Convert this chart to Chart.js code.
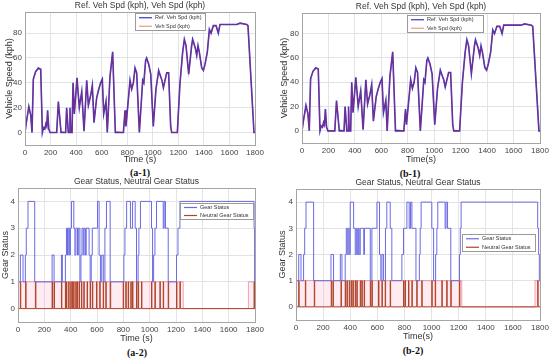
<!DOCTYPE html>
<html>
<head>
<meta charset="utf-8">
<script src="https://cdn.jsdelivr.net/npm/chart.js@4.4.1/dist/chart.umd.min.js"></script>
<style>
  body { margin: 0; background: #fff; width: 550px; height: 362px; position: relative; overflow: hidden; }
  canvas { position: absolute; }
  .cap { position: absolute; font: bold 10px "Liberation Serif", "Times New Roman", serif; color: #111; transform: translate(-50%, -50%); white-space: nowrap; }
</style>
</head>
<body>
<div class="cap" style="left:140px;top:172px">(a-1)</div>
<div class="cap" style="left:410px;top:173px">(b-1)</div>
<div class="cap" style="left:137px;top:352px">(a-2)</div>
<div class="cap" style="left:413px;top:350px">(b-2)</div>
<script>
// speed cycle (s, kph)
const speedTimes = [0, 10, 30, 45, 55, 65, 83, 104, 123, 136, 145, 155, 163, 170, 177, 186, 196, 248, 261, 282,
  318, 326, 339, 348, 352, 357, 368, 376, 386, 407, 425, 444, 462, 483, 496, 514, 527, 540, 561, 575,
  592, 605, 616, 634, 644, 665, 686, 707, 770, 783, 790, 822, 835, 848, 861, 874, 895, 921, 930, 944,
  952, 968, 984, 1004, 1025, 1046, 1062, 1072, 1083, 1109, 1124, 1140, 1148, 1192, 1213, 1234, 1247, 1260, 1281, 1304,
  1312, 1333, 1344, 1354, 1364, 1383, 1396, 1409, 1427, 1443, 1456, 1474, 1495, 1513, 1526, 1657, 1683, 1735, 1745, 1792, 1800];
const refSpeed = [0, 8, 21, 14, 0, 43, 49, 52, 51, 0, 4, 3, 7, 5, 18, 3, 0, 0, 25, 0,
  0, 20, 0, 0, 20, 0, 0, 40, 15, 44, 20, 33, 1, 42, 22, 30, 38, 8, 28, 34,
  40, 43, 15, 25, 0, 45, 65, 0, 0, 18, 5, 42, 35, 40, 52, 48, 0, 42, 40, 58,
  60, 55, 47, 5, 35, 50, 45, 42, 36, 48, 48, 5, 0, 0, 40, 65, 75, 70, 47, 70,
  75, 68, 62, 70, 65, 52, 50, 55, 65, 83, 80, 86, 86, 80, 87, 87, 88, 87, 86, 0, 0];
const vehSpeed = [0, 7, 20, 14, 1, 42, 49, 51, 51, 1, 4, 3, 6, 5, 17, 3, 0, 0, 24, 1,
  0, 19, 1, 0, 19, 1, 0, 39, 16, 43, 21, 32, 2, 41, 22, 30, 37, 9, 28, 34,
  40, 42, 16, 25, 1, 44, 64, 1, 0, 17, 6, 41, 35, 40, 51, 48, 1, 41, 40, 57,
  59, 55, 47, 6, 35, 49, 45, 42, 37, 48, 48, 6, 0, 0, 39, 64, 74, 70, 48, 69,
  74, 68, 62, 69, 65, 52, 50, 55, 65, 82, 80, 86, 86, 81, 87, 87, 88, 87, 86, 1, 0];

// gear status change points (s -> gear from that time on)
const gearTimesA = [0, 18, 38, 56, 63, 76, 127, 259, 274, 330, 337, 360, 368, 376, 382, 392, 398, 406, 424, 432,
  440, 452, 458, 470, 478, 486, 496, 502, 512, 518, 540, 548, 556, 564, 604, 616, 626, 636, 648, 660,
  672, 700, 804, 812, 825, 854, 870, 890, 900, 912, 918, 930, 1014, 1022, 1030, 1040, 1052, 1103, 1110, 1120,
  1141, 1204, 1215, 1230, 1793, 1797, 1800];
const gearA = [1, 2, 1, 2, 3, 4, 1, 2, 1, 2, 1, 2, 3, 2, 3, 2, 3, 4, 3, 2,
  3, 2, 3, 1, 2, 3, 2, 3, 2, 3, 2, 1, 2, 3, 4, 2, 1, 2, 1, 3,
  4, 1, 2, 3, 4, 3, 4, 3, 1, 2, 3, 4, 3, 1, 2, 3, 4, 3, 4, 3,
  1, 2, 3, 4, 3, 1, 1];
const gearTimesB = [0, 20, 37, 56, 64, 74, 130, 258, 277, 327, 339, 363, 371, 378, 385, 393, 400, 425, 437, 445,
  452, 460, 466, 474, 500, 505, 548, 560, 597, 616, 626, 634, 646, 660, 670, 695, 707, 781, 793, 818,
  835, 845, 855, 885, 910, 916, 923, 1002, 1015, 1030, 1039, 1046, 1100, 1107, 1118, 1142, 1206, 1212, 1218, 1783,
  1790, 1795, 1800];
const gearB = [1, 2, 1, 2, 3, 4, 1, 2, 1, 2, 1, 2, 3, 2, 3, 2, 4, 3, 2, 3,
  2, 3, 2, 3, 2, 3, 1, 3, 4, 2, 1, 2, 1, 3, 4, 3, 1, 2, 3, 4,
  3, 4, 3, 1, 2, 3, 4, 3, 1, 2, 3, 4, 3, 4, 3, 1, 2, 3, 4, 3,
  2, 1, 1];

// neutral gear pulses: on / off times (s)
const neutralOnA = [18, 58, 132, 259, 274, 330, 360, 368, 385, 401, 413, 423, 439, 449, 464, 482, 500, 525, 548, 565,
  596, 621, 647, 667, 700, 799, 819, 837, 857, 870, 900, 913, 938, 1014, 1040, 1078, 1103, 1141, 1204, 1230, 1793];
const neutralOffA = [21, 61, 136, 262, 277, 333, 363, 371, 388, 404, 416, 426, 442, 452, 467, 485, 503, 528, 551, 568,
  599, 624, 650, 670, 704, 802, 822, 840, 860, 873, 903, 916, 941, 1017, 1043, 1081, 1106, 1144, 1207, 1233, 1796];
const neutralOnB = [20, 69, 135, 260, 273, 332, 363, 376, 393, 408, 420, 437, 449, 474, 486, 503, 548, 560, 609, 634,
  658, 695, 793, 805, 830, 855, 891, 928, 1002, 1027, 1076, 1112, 1142, 1206, 1783];
const neutralOffB = [23, 72, 138, 263, 276, 335, 366, 379, 396, 411, 423, 440, 452, 477, 489, 506, 551, 563, 612, 637,
  661, 698, 796, 808, 833, 858, 894, 931, 1005, 1030, 1079, 1115, 1145, 1209, 1786];

// light pink band seen under the neutral trace (value from that time on)
const bandTimesA = [0, 1255, 1750, 1800];
const bandA = [1, 0, 1, 1];
const bandTimesB = [0, 1223, 1763, 1800];
const bandB = [1, 0, 1, 1];

// tick labels
const timeTicks = [0, 200, 400, 600, 800, 1000, 1200, 1400, 1600, 1800];
const speedTicks = [0, 20, 40, 60, 80];
const gearTicks = [0, 1, 2, 3, 4];

const FONT = '"Liberation Sans", Arial, Helvetica, sans-serif';
Chart.defaults.font.family = FONT;

function pts(xs, ys) { return xs.map((x, i) => ({ x: x, y: ys[i] })); }
function pulses(on, off) {
  const out = [{ x: 0, y: 0 }];
  on.forEach((t, i) => { out.push({ x: t, y: 1 }); out.push({ x: off[i], y: 0 }); });
  out.push({ x: 1800, y: 0 });
  return out;
}

const framePlugin = {
  id: 'frame',
  afterDraw(chart) {
    const o = chart.options.plugins.frame;
    const a = chart.chartArea;
    const c = chart.ctx;
    c.save();
    c.strokeStyle = '#a5a5a5';
    c.lineWidth = 1;
    c.strokeRect(Math.round(a.left) + 0.5, Math.round(a.top) + 0.5, Math.round(a.right - a.left), Math.round(a.bottom - a.top));
    c.fillStyle = '#333';
    c.font = '8.5px ' + FONT;
    c.textAlign = 'center';
    c.textBaseline = 'middle';
    c.fillText(o.title, (a.left + a.right) / 2, a.top - 6);
    // legend box inside the plot
    const lb = o.legendBox;
    const lx = a.left + lb.dx, ly = a.top + lb.dy;
    c.fillStyle = '#fff';
    c.fillRect(lx, ly, lb.w, lb.h);
    c.strokeStyle = '#9a9a9a';
    c.strokeRect(lx + 0.5, ly + 0.5, lb.w, lb.h);
    const items = chart.data.datasets.filter(d => !d.skipLegend);
    c.font = '5.5px ' + FONT;
    c.textAlign = 'left';
    items.forEach((d, i) => {
      const yy = ly + lb.h * (i + 0.5) / items.length + 0.5;
      c.strokeStyle = d.legendColor || d.borderColor;
      c.lineWidth = 1.2;
      c.beginPath();
      c.moveTo(lx + 4, yy);
      c.lineTo(lx + 17, yy);
      c.stroke();
      c.fillStyle = '#333';
      c.fillText(d.label, lx + 20, yy);
    });
    c.restore();
  }
};

function panel(box, area, opt) {
  const cv = document.createElement('canvas');
  cv.width = box.w;
  cv.height = box.h;
  cv.style.left = box.x + 'px';
  cv.style.top = box.y + 'px';
  document.body.appendChild(cv);
  return new Chart(cv, {
    type: 'line',
    data: { datasets: opt.datasets },
    options: {
      responsive: false,
      animation: false,
      events: [],
      layout: { padding: { left: 0, top: area.t - box.y, right: box.x + box.w - area.r, bottom: 0 } },
      elements: { point: { radius: 0 }, line: { tension: 0 } },
      plugins: {
        legend: { display: false },
        tooltip: { enabled: false },
        frame: { title: opt.title, legendBox: opt.legendBox }
      },
      scales: {
        x: {
          type: 'linear', min: 0, max: 1800,
          afterBuildTicks(s) { s.ticks = timeTicks.map(v => ({ value: v })); },
          ticks: { autoSkip: false, maxRotation: 0, padding: 3, color: '#444', font: { size: 8 }, callback: v => String(v) },
          grid: { color: '#e3e3e3', drawTicks: false },
          border: { display: false },
          title: { display: true, text: opt.xTitle, color: '#333', font: { size: 9 }, padding: 0 },
          afterFit(s) { s.height = box.y + box.h - area.b; s.paddingLeft = 0; s.paddingRight = 0; }
        },
        y: {
          type: 'linear', min: opt.yMin, max: opt.yMax,
          afterBuildTicks(s) { s.ticks = opt.yTicks.map(v => ({ value: v })); },
          ticks: { padding: 3, color: '#444', font: { size: 8 }, callback: v => String(v) },
          grid: { color: '#e3e3e3', drawTicks: false },
          border: { display: false },
          title: { display: true, text: opt.yTitle, color: '#333', font: { size: 9 }, padding: { top: opt.yTitlePad, bottom: 0 } },
          afterFit(s) { s.width = area.l - box.x; s.paddingTop = 0; s.paddingBottom = 0; }
        }
      }
    },
    plugins: [framePlugin]
  });
}

function speedSets() {
  return [
    { label: 'Ref. Veh Spd (kph)', data: pts(speedTimes, refSpeed), borderColor: '#3535c8', borderWidth: 1.6, order: 1 },
    { label: 'Veh Spd (kph)', data: pts(speedTimes, vehSpeed), borderColor: 'rgba(190,40,80,0.5)', legendColor: '#e4a088', borderWidth: 1.1, order: 0 }
  ];
}
function gearSets(gt, gv, on, off, bt, bv) {
  return [
    { label: 'Gear Status', data: pts(gt, gv), stepped: 'before', borderColor: '#6a6ae4', borderWidth: 1, order: 0 },
    { label: 'Neutral Gear Status', data: pulses(on, off), stepped: 'before', borderColor: '#b0442c', borderWidth: 1, order: 1 },
    { label: '', skipLegend: true, data: pts(bt, bv), stepped: 'before', borderColor: 'rgba(235,90,110,0.55)', borderWidth: 1,
      fill: 'origin', backgroundColor: 'rgba(255,140,175,0.17)', order: 2 }
  ];
}

panel({ x: 0, y: 0, w: 267, h: 165 }, { l: 25, t: 12, r: 255, b: 145 }, {
  title: 'Ref. Veh Spd (kph), Veh Spd (kph)', xTitle: 'Time (s)', yTitle: 'Vehicle Speed (kph)', yTitlePad: 4.6,
  yMin: -10, yMax: 97, yTicks: speedTicks, legendBox: { dx: 110, dy: 1, w: 70, h: 17 }, datasets: speedSets()
});
panel({ x: 275, y: 0, w: 275, h: 165 }, { l: 302, t: 13, r: 540, b: 143 }, {
  title: 'Ref. Veh Spd (kph), Veh Spd (kph)', xTitle: 'Time(s)', yTitle: 'Vehicle Speed (kph)', yTitlePad: 4.6,
  yMin: -10, yMax: 97, yTicks: speedTicks, legendBox: { dx: 105, dy: 2, w: 76, h: 17 }, datasets: speedSets()
});
panel({ x: 0, y: 176, w: 267, h: 168 }, { l: 18, t: 188, r: 255, b: 322 }, {
  title: 'Gear Status, Neutral Gear Status', xTitle: 'Time (s)', yTitle: 'Gear Status', yTitlePad: 0.6,
  yMin: -0.5, yMax: 4.5, yTicks: gearTicks, legendBox: { dx: 162, dy: 15, w: 73, h: 16 },
  datasets: gearSets(gearTimesA, gearA, neutralOnA, neutralOffA, bandTimesA, bandA)
});
panel({ x: 275, y: 176, w: 275, h: 166 }, { l: 296, t: 189, r: 540, b: 320 }, {
  title: 'Gear Status, Neutral Gear Status', xTitle: 'Time(s)', yTitle: 'Gear Status', yTitlePad: 2,
  yMin: -0.5, yMax: 4.5, yTicks: gearTicks, legendBox: { dx: 166, dy: 45, w: 73, h: 17 },
  datasets: gearSets(gearTimesB, gearB, neutralOnB, neutralOffB, bandTimesB, bandB)
});
</script>
</body>
</html>
